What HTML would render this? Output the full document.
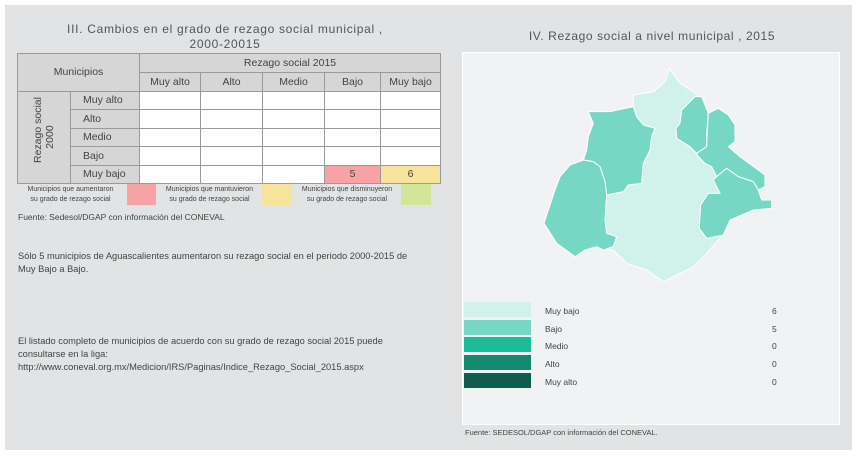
<!DOCTYPE html>
<html><head><meta charset="utf-8"><style>
*{margin:0;padding:0;box-sizing:border-box}
body{width:857px;height:456px;background:#fff;font-family:"Liberation Sans",sans-serif;color:#444;position:relative;overflow:hidden}
.bg{position:absolute;left:5px;top:5px;width:847px;height:445px;background:#e1e3e4}
.a{position:absolute;white-space:nowrap}
table{position:absolute;left:17px;top:53px;width:423px;table-layout:fixed;border-collapse:collapse;font-size:10.5px;color:#444}
td{border:1px solid #9a9a9a;height:18.5px;text-align:center;background:#fff;padding:0;overflow:hidden;white-space:nowrap}
td.g{background:#d6d6d6}
td.l{text-align:left;padding-left:12px;background:#d6d6d6}
</style></head><body>
<div class="bg"></div>
<div class="a" style="left:0;width:450px;top:22px;text-align:center;font-size:12px;line-height:15px;letter-spacing:0.7px;color:#555">III. Cambios en el grado de rezago social municipal ,<br>2000-20015</div>
<table>
<colgroup><col style="width:53px"><col style="width:69px"><col style="width:61px"><col style="width:62px"><col style="width:62px"><col style="width:56px"><col style="width:60px"></colgroup>
<tr><td class="g" colspan="2" rowspan="2">Municipios</td><td class="g" colspan="5" style="height:19px">Rezago social 2015</td></tr>
<tr><td class="g">Muy alto</td><td class="g">Alto</td><td class="g">Medio</td><td class="g">Bajo</td><td class="g">Muy bajo</td></tr>
<tr><td class="g" rowspan="5" style="overflow:visible"><div style="transform:rotate(-90deg);white-space:nowrap;line-height:12px">Rezago social<br>2000</div></td><td class="l">Muy alto</td><td></td><td></td><td></td><td></td><td></td></tr>
<tr><td class="l">Alto</td><td></td><td></td><td></td><td></td><td></td></tr>
<tr><td class="l">Medio</td><td></td><td></td><td></td><td></td><td></td></tr>
<tr><td class="l">Bajo</td><td></td><td></td><td></td><td></td><td></td></tr>
<tr><td class="l">Muy bajo</td><td></td><td></td><td></td><td style="background:#f7a3a6">5</td><td style="background:#f7e39c">6</td></tr>
</table>
<div class="a" style="left:18px;top:185px;width:105px;text-align:center;font-size:7px;line-height:10px">Municipios que aumentaron<br>su grado de rezago social</div>
<div class="a" style="left:127px;top:184px;width:29px;height:21px;background:#f7a3a6"></div>
<div class="a" style="left:158px;top:185px;width:103px;text-align:center;font-size:7px;line-height:10px">Municipios que mantuvieron<br>su grado de rezago social</div>
<div class="a" style="left:262px;top:184px;width:30px;height:21px;background:#f7e39c"></div>
<div class="a" style="left:294px;top:185px;width:106px;text-align:center;font-size:7px;line-height:10px">Municipios que disminuyeron<br>su grado de rezago social</div>
<div class="a" style="left:401px;top:184px;width:30px;height:21px;background:#d2e69a"></div>
<div class="a" style="left:18px;top:212px;font-size:8.5px">Fuente: Sedesol/DGAP con información del CONEVAL</div>
<div class="a" style="left:18px;top:250px;font-size:9.3px;line-height:13px">Sólo 5 municipios de Aguascalientes aumentaron su rezago social en el periodo 2000-2015 de<br>Muy Bajo a Bajo.</div>
<div class="a" style="left:18px;top:335px;font-size:9.3px;line-height:13px">El listado completo de municipios de acuerdo con su grado de rezago social 2015 puede<br>consultarse en la liga:<br>http://www.coneval.org.mx/Medicion/IRS/Paginas/Indice_Rezago_Social_2015.aspx</div>

<div class="a" style="left:462px;top:29px;width:380px;text-align:center;font-size:12px;letter-spacing:0.6px;color:#555">IV. Rezago social a nivel municipal , 2015</div>
<div class="a" style="left:462px;top:52px;width:378px;height:373px;background:#f1f2f4;border:1px solid #fff"></div>
<svg class="a" style="left:0;top:0" width="857" height="456"><g transform="translate(460,50) scale(0.3333)" stroke="#fff" stroke-width="3">
<path fill="#d1f2ea" d="M628,55 660,100 700,125 720,140 745,190 775,175 805,195 825,225 825,275 805,290 840,320 915,375 915,410 895,420 905,450 935,450 935,475 880,480 810,510 790,555 780,565 740,610 700,650 660,670 610,695 560,660 500,640 460,600 430,600 410,590 375,600 345,620 290,580 265,540 252,520 285,420 300,380 330,345 370,330 380,300 385,260 400,220 385,185 450,185 520,170 520,135 580,125 615,95Z"/>
<g fill="#76d8c4">
<path d="M385,185 450,185 520,170 530,200 550,225 585,235 575,260 570,300 550,340 545,400 505,405 490,425 440,435 435,395 420,350 400,335 370,330 380,300 385,260 400,220Z"/>
<path d="M370,330 400,335 420,350 435,395 440,435 435,510 440,550 470,560 460,590 430,600 410,590 375,600 345,620 290,580 265,540 252,520 285,420 300,380 330,345Z"/>
<path d="M705,140 725,140 745,190 740,250 740,290 725,300 710,310 690,290 650,265 648,235 660,220 665,180Z"/>
<path d="M745,190 775,175 805,195 825,225 825,275 805,290 840,320 915,375 915,410 895,420 880,395 835,380 800,355 770,380 755,350 735,340 715,320 710,310 740,290Z"/>
<path d="M770,380 800,355 835,380 880,395 895,420 905,450 935,450 935,475 880,480 810,510 790,555 740,565 718,535 722,465 745,430 780,430 760,390Z"/>
</g></g></svg>
<div class="a" style="left:464px;top:302px;width:67px;height:15px;background:#d1f2ea"></div>
<div class="a" style="left:464px;top:320px;width:67px;height:15px;background:#76d8c4"></div>
<div class="a" style="left:464px;top:337px;width:67px;height:15px;background:#1bbc98"></div>
<div class="a" style="left:464px;top:355px;width:67px;height:15px;background:#138a70"></div>
<div class="a" style="left:464px;top:373px;width:67px;height:15px;background:#0e5d4d"></div>
<div class="a" style="left:545px;top:303px;font-size:8.5px;line-height:17.7px">Muy bajo<br>Bajo<br>Medio<br>Alto<br>Muy alto</div>
<div class="a" style="left:772px;top:303px;font-size:8.5px;line-height:17.7px">6<br>5<br>0<br>0<br>0</div>
<div class="a" style="left:465px;top:428px;font-size:7.5px">Fuente: SEDESOL/DGAP con información del CONEVAL.</div>
</body></html>
